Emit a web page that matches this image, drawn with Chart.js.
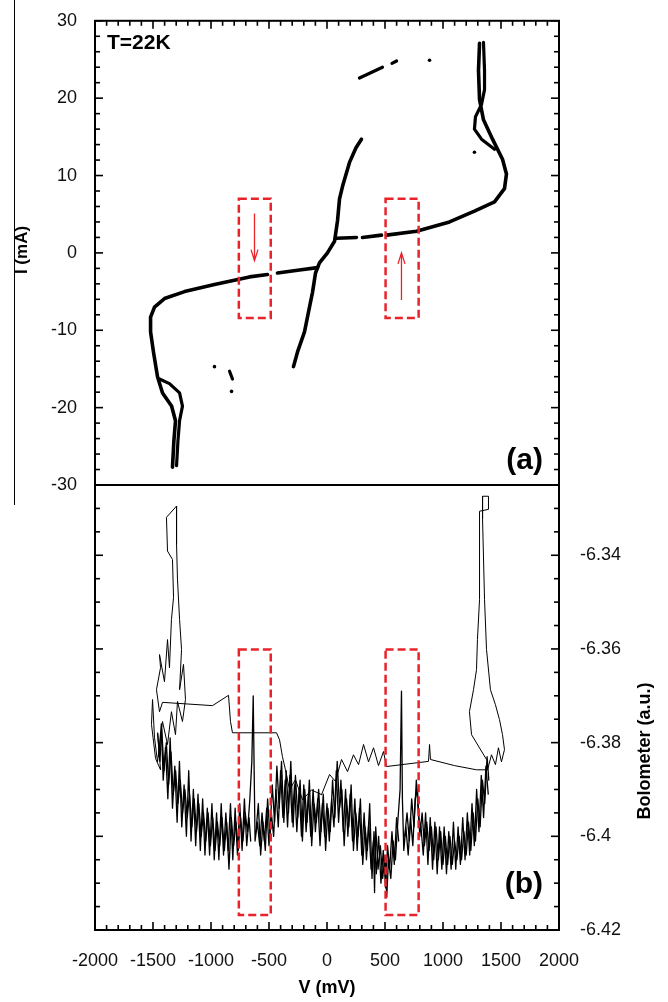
<!DOCTYPE html>
<html>
<head>
<meta charset="utf-8">
<title>I-V and bolometer response, T=22K</title>
<script src="https://cdn.jsdelivr.net/npm/chart.js@4.4.0/dist/chart.umd.min.js"></script>
<style>
  body { margin: 0; background: #fff; }
  #wrap { position: relative; width: 668px; height: 1002px; }
  #wrap canvas { position: absolute; left: 0; top: 0; }
</style>
</head>
<body>
<div id="wrap">
  <canvas id="ivChart" width="668" height="1002"></canvas>
  <canvas id="boloChart" width="668" height="1002"></canvas>
</div>
<script>
// ---- axes ----
const vTicks = [-2000, -1500, -1000, -500, 0, 500, 1000, 1500, 2000];
const iTicks = [-30, -20, -10, 0, 10, 20, 30];
const boloTicks = [-6.42, -6.4, -6.38, -6.36, -6.34];

// ---- marked windows (V range) and arrows ----
const windowsV = [[-760, -485], [505, 790]];
const windowI = [-8.4, 7.0];
const windowBolo = [-6.4168, -6.3601];
const arrowsIV = [[-625, 5.1, -1.0], [642, -6.1, 0.0]]; // V, I start, I end

// ---- (a) I-V curve, [V (mV), I (mA)] ----
const ivLowerOuter = [[-1332,-27.7],[-1320,-24.3],[-1306,-21.7],[-1340,-19.8],[-1418,-18.1],[-1461,-16.0],[-1496,-12.8],[-1521,-10.2],[-1521,-8.3],[-1487,-7.0],[-1401,-5.9],[-1228,-5.0],[-970,-4.1],[-668,-3.1],[-513,-2.8],[-470,null],[-427,-2.6],[-237,-2.2],[-82,-1.9]];
const ivLowerInner = [[-1297,-27.5],[-1285,-24.3],[-1271,-21.7],[-1246,-19.8],[-1271,-18.1],[-1358,-16.9],[-1444,-16.3]];
const ivCentral = [[-289,-14.7],[-254,-12.8],[-194,-10.2],[-151,-7.0],[-125,-5.1],[-99,-2.6],[-65,-1.3],[4,0],[65,1.5],[91,4.2],[108,7.0],[134,8.6],[194,11.7],[250,13.6],[297,14.7]];
const ivUpperOuter = [[82,1.9],[254,2.0],[280,null],[306,2.0],[470,2.3],[490,null],[513,2.3],[772,2.8],[1056,4.0],[1271,5.4],[1444,6.6],[1530,8.3],[1547,10.2],[1513,12.1],[1427,14.7],[1349,17.2],[1315,19.8],[1306,23.6],[1315,27.1]];
const ivUpperInner = [[1349,27.2],[1358,23.6],[1358,21.1],[1332,19.2],[1280,17.6],[1271,16.0],[1332,14.7],[1444,13.4]];
const ivDashes = [[280,22.6],[478,24.0],[500,null],[560,24.5],[600,24.8],[620,null],[-840,-15.3],[-815,-16.3]];
const ivDots = [[884,24.9],[1271,13.0],[-970,-14.7],[-823,-17.9]];

// ---- (b) bolometer, [V (mV), signal (a.u.)] ----
// two overlapping noisy passes of the up-sweep
const boloNoise = [[-1460,-6.378],[-1440,-6.384],[-1425,-6.377],[-1405,-6.386],[-1385,-6.380],[-1365,-6.389],[-1345,-6.382],[-1325,-6.391],[-1305,-6.386],[-1285,-6.393],[-1265,-6.388],[-1245,-6.395],[-1225,-6.390],[-1205,-6.396],[-1185,-6.391],[-1165,-6.398],[-1145,-6.392],[-1125,-6.399],[-1105,-6.393],[-1085,-6.400],[-1065,-6.395],[-1045,-6.401],[-1025,-6.395],[-1005,-6.402],[-985,-6.396],[-965,-6.403],[-945,-6.397],[-925,-6.402],[-905,-6.396],[-885,-6.403],[-865,-6.397],[-845,-6.407],[-825,-6.396],[-805,-6.402],[-785,-6.397],[-765,-6.403],[-745,-6.396],[-725,-6.401],[-705,-6.395],[-685,-6.399],[-665,-6.392],[-648,-6.384],[-636,-6.370],[-629,-6.384],[-620,-6.401],[-600,-6.397],[-580,-6.402],[-560,-6.395],[-540,-6.401],[-520,-6.394],[-500,-6.402],[-480,-6.395],[-460,-6.400],[-440,-6.390],[-420,-6.398],[-400,-6.386],[-380,-6.396],[-360,-6.388],[-340,-6.398],[-320,-6.387],[-300,-6.397],[-280,-6.389],[-260,-6.399],[-240,-6.390],[-220,-6.400],[-200,-6.389],[-180,-6.399],[-160,-6.391],[-140,-6.400],[-120,-6.390],[-100,-6.399],[-80,-6.392],[-60,-6.402],[-40,-6.393],[-20,-6.400],[0,-6.393],[20,-6.401],[40,-6.392],[60,-6.398],[80,-6.386],[100,-6.397],[120,-6.388],[140,-6.399],[160,-6.390],[180,-6.400],[200,-6.391],[220,-6.401],[240,-6.392],[260,-6.403],[280,-6.394],[300,-6.404],[320,-6.395],[340,-6.405],[360,-6.397],[380,-6.407],[400,-6.401],[410,-6.412],[420,-6.398],[440,-6.407],[460,-6.402],[480,-6.409],[500,-6.404],[515,-6.413],[530,-6.405],[550,-6.409],[570,-6.401],[590,-6.405],[610,-6.397],[630,-6.390],[642,-6.369],[650,-6.392],[662,-6.403],[680,-6.398],[700,-6.404],[720,-6.396],[740,-6.402],[760,-6.392],[780,-6.390],[800,-6.400],[820,-6.395],[840,-6.402],[860,-6.397],[880,-6.403],[900,-6.398],[920,-6.405],[940,-6.398],[960,-6.405],[980,-6.399],[1000,-6.406],[1020,-6.400],[1040,-6.406],[1060,-6.400],[1080,-6.406],[1100,-6.401],[1120,-6.405],[1140,-6.400],[1160,-6.405],[1180,-6.399],[1200,-6.404],[1220,-6.397],[1240,-6.403],[1260,-6.395],[1280,-6.401],[1300,-6.392],[1320,-6.398],[1340,-6.388],[1360,-6.393],[1380,-6.383],[1395,-6.388]];
const boloNoise2 = [[-1450,-6.383],[-1428,-6.376],[-1412,-6.388],[-1392,-6.381],[-1372,-6.392],[-1352,-6.379],[-1332,-6.394],[-1312,-6.385],[-1292,-6.397],[-1272,-6.384],[-1252,-6.398],[-1232,-6.389],[-1212,-6.400],[-1192,-6.386],[-1172,-6.401],[-1152,-6.390],[-1132,-6.402],[-1112,-6.391],[-1092,-6.403],[-1072,-6.392],[-1052,-6.404],[-1032,-6.394],[-1012,-6.404],[-992,-6.393],[-972,-6.405],[-952,-6.395],[-932,-6.405],[-912,-6.393],[-892,-6.404],[-872,-6.395],[-852,-6.403],[-832,-6.393],[-812,-6.405],[-792,-6.394],[-772,-6.404],[-752,-6.393],[-732,-6.403],[-712,-6.392],[-692,-6.402],[-672,-6.396],[-658,-6.401],[-635,null],[-612,-6.399],[-592,-6.393],[-572,-6.404],[-552,-6.397],[-532,-6.403],[-512,-6.392],[-492,-6.400],[-472,-6.389],[-452,-6.397],[-432,-6.385],[-412,-6.394],[-392,-6.384],[-372,-6.397],[-352,-6.386],[-332,-6.395],[-312,-6.384],[-292,-6.398],[-272,-6.387],[-252,-6.396],[-232,-6.388],[-212,-6.401],[-192,-6.390],[-172,-6.397],[-152,-6.388],[-132,-6.402],[-112,-6.393],[-92,-6.397],[-72,-6.390],[-52,-6.399],[-32,-6.391],[-12,-6.403],[8,-6.394],[28,-6.399],[48,-6.388],[68,-6.396],[88,-6.384],[108,-6.394],[128,-6.390],[148,-6.402],[168,-6.392],[188,-6.398],[208,-6.389],[228,-6.403],[248,-6.395],[268,-6.400],[288,-6.392],[308,-6.406],[328,-6.398],[348,-6.403],[368,-6.393],[388,-6.409],[405,-6.399],[425,-6.408],[445,-6.400],[465,-6.410],[485,-6.403],[505,-6.411],[522,-6.402],[540,-6.407],[560,-6.399],[580,-6.406],[600,-6.396],[618,-6.401],[645,null],[670,-6.400],[690,-6.395],[710,-6.401],[730,-6.392],[750,-6.398],[770,-6.388],[790,-6.396],[810,-6.398],[830,-6.404],[850,-6.395],[870,-6.406],[890,-6.396],[910,-6.407],[930,-6.397],[950,-6.408],[970,-6.398],[990,-6.407],[1010,-6.398],[1030,-6.408],[1050,-6.399],[1070,-6.407],[1090,-6.397],[1110,-6.407],[1130,-6.398],[1150,-6.406],[1170,-6.396],[1190,-6.405],[1210,-6.395],[1230,-6.404],[1250,-6.393],[1270,-6.402],[1290,-6.390],[1310,-6.399],[1330,-6.387],[1350,-6.396],[1370,-6.385],[1390,-6.391]];
const boloRight = [[1375,-6.3836],[1246,-6.3783],[1228,-6.3734],[1263,-6.3687],[1289,-6.3644],[1297,-6.3580],[1315,-6.3494],[1315,-6.3306],[1392,-6.3302],[1392,-6.3274],[1341,-6.3274],[1341,-6.3323],[1358,-6.3494],[1375,-6.3601],[1409,-6.3687],[1452,-6.3719],[1487,-6.3751],[1513,-6.3783],[1530,-6.3815],[1504,-6.3841],[1478,-6.3811],[1452,-6.3847],[1418,-6.3826],[1384,-6.3858],[1289,-6.3858],[1099,-6.3849],[892,-6.3836],[884,-6.3804],[875,-6.3840],[513,-6.3851],[487,-6.3819],[444,-6.3849],[401,-6.3811],[358,-6.3841],[315,-6.3804],[272,-6.3847],[228,-6.3826],[177,-6.3862],[125,-6.3836],[73,-6.3883],[22,-6.3868],[-47,-6.3911]];
const boloLeft = [[-47,-6.3911],[-134,-6.3901],[-211,-6.3922],[-272,-6.3879],[-323,-6.3901],[-358,-6.3858],[-384,-6.3830],[-409,-6.3794],[-435,-6.3779],[-815,-6.3779],[-832,-6.3755],[-849,-6.3699],[-987,-6.3721],[-1418,-6.3714],[-1444,-6.3734],[-1470,-6.3687],[-1435,-6.3640],[-1444,-6.3612],[-1401,-6.3670],[-1375,-6.3580],[-1358,-6.3640],[-1341,-6.3537],[-1323,-6.3490],[-1332,-6.3409],[-1375,-6.3391],[-1384,-6.3319],[-1297,-6.3295],[-1297,-6.3376],[-1289,-6.3451],[-1271,-6.3537],[-1254,-6.3601],[-1271,-6.3687],[-1237,-6.3633],[-1220,-6.3708],[-1246,-6.3755],[-1289,-6.3712],[-1306,-6.3783],[-1341,-6.3734],[-1375,-6.3804],[-1418,-6.3755],[-1461,-6.3841],[-1487,-6.3789],[-1504,-6.3708],[-1513,-6.3761],[-1478,-6.3834],[-1435,-6.3858],[-1460,-6.378]];

const FONT = "'Liberation Sans', Arial, Helvetica, sans-serif";
const RED = '#e8232a';

const pts = arr => arr.map(p => ({ x: p[0], y: p[1] }));

function curve(data, width) {
  return {
    data: pts(data), showLine: true, borderColor: '#000', borderWidth: width,
    pointRadius: 0, borderCapStyle: 'round', borderJoinStyle: 'round', spanGaps: false
  };
}

// inward tick marks along one side of the plot box
function sideTicks(ctx, scale, a, side, min, max, step, every) {
  const n = Math.round((max - min) / step);
  for (let i = 0; i <= n; i++) {
    const v = min + i * step;
    const len = (i % every === 0) ? 8 : 5;
    const p = scale.getPixelForValue(v);
    ctx.beginPath();
    if (side === 'left') { ctx.moveTo(a.left, p); ctx.lineTo(a.left + len, p); }
    if (side === 'right') { ctx.moveTo(a.right, p); ctx.lineTo(a.right - len, p); }
    if (side === 'top') { ctx.moveTo(p, a.top); ctx.lineTo(p, a.top + len); }
    if (side === 'bottom') { ctx.moveTo(p, a.bottom); ctx.lineTo(p, a.bottom - len); }
    ctx.stroke();
  }
}

function drawWindows(ctx, x, y, range) {
  ctx.save();
  ctx.strokeStyle = RED;
  ctx.lineWidth = 2.5;
  ctx.setLineDash([8, 4]);
  windowsV.forEach(w => {
    const x0 = x.getPixelForValue(w[0]), x1 = x.getPixelForValue(w[1]);
    const y0 = y.getPixelForValue(range[1]), y1 = y.getPixelForValue(range[0]);
    ctx.strokeRect(x0, y0, x1 - x0, y1 - y0);
  });
  ctx.restore();
}

function vText(ctx, text, cx, cy, font) {
  ctx.save();
  ctx.translate(cx, cy);
  ctx.rotate(-Math.PI / 2);
  ctx.font = font;
  ctx.textAlign = 'center';
  ctx.textBaseline = 'middle';
  ctx.fillText(text, 0, 0);
  ctx.restore();
}

const ivDecor = {
  id: 'ivDecor',
  afterDraw(chart) {
    const { ctx, chartArea: a, scales: { x, y } } = chart;
    drawWindows(ctx, x, y, windowI);

    ctx.save();
    // sweep direction arrows
    ctx.strokeStyle = RED;
    ctx.lineWidth = 1.3;
    arrowsIV.forEach(ar => {
      const px = x.getPixelForValue(ar[0]);
      const p0 = y.getPixelForValue(ar[1]), p1 = y.getPixelForValue(ar[2]);
      const d = Math.sign(p1 - p0);
      ctx.beginPath();
      ctx.moveTo(px, p0); ctx.lineTo(px, p1);
      ctx.moveTo(px - 3.5, p1 - d * 11); ctx.lineTo(px, p1); ctx.lineTo(px + 3.5, p1 - d * 11);
      ctx.stroke();
    });

    // frame and ticks
    ctx.strokeStyle = '#000';
    ctx.lineWidth = 2;
    ctx.strokeRect(a.left, a.top, a.right - a.left, a.bottom - a.top);
    ctx.lineWidth = 1.6;
    sideTicks(ctx, y, a, 'left', -30, 30, 2, 5);
    sideTicks(ctx, y, a, 'right', -30, 30, 2, 5);
    sideTicks(ctx, x, a, 'top', -2000, 2000, 100, 5);

    // side rule and labels
    ctx.lineWidth = 1;
    ctx.beginPath(); ctx.moveTo(14.5, 0); ctx.lineTo(14.5, 505); ctx.stroke();
    ctx.fillStyle = '#000';
    vText(ctx, 'I (mA)', 22, 250, 'bold 17px ' + FONT);
    ctx.font = 'bold 21px ' + FONT;
    ctx.textAlign = 'left'; ctx.textBaseline = 'middle';
    ctx.fillText('T=22K', 107, 43);
    ctx.font = 'bold 30px ' + FONT;
    ctx.textAlign = 'right';
    ctx.fillText('(a)', 543, 461);
    ctx.restore();
  }
};

const boloDecor = {
  id: 'boloDecor',
  afterDraw(chart) {
    const { ctx, chartArea: a, scales: { x, y } } = chart;
    drawWindows(ctx, x, y, windowBolo);

    ctx.save();
    ctx.strokeStyle = '#000';
    ctx.lineWidth = 2;
    ctx.strokeRect(a.left, a.top, a.right - a.left, a.bottom - a.top);
    ctx.lineWidth = 1.6;
    sideTicks(ctx, y, a, 'left', -6.42, -6.325, 0.005, 4);
    sideTicks(ctx, y, a, 'right', -6.42, -6.325, 0.005, 4);
    sideTicks(ctx, x, a, 'bottom', -2000, 2000, 100, 5);

    ctx.fillStyle = '#000';
    ctx.font = 'bold 30px ' + FONT;
    ctx.textAlign = 'right'; ctx.textBaseline = 'middle';
    ctx.fillText('(b)', 543, 885);
    ctx.font = 'bold 18px ' + FONT;
    ctx.textAlign = 'center';
    ctx.fillText('V (mV)', 327, 988);
    vText(ctx, 'Bolometer (a.u.)', 645, 751, 'bold 18px ' + FONT);
    ctx.restore();
  }
};

const tickFont = { family: FONT, size: 18 };

new Chart(document.getElementById('ivChart'), {
  type: 'scatter',
  data: {
    datasets: [
      curve(ivLowerOuter, 3.6),
      curve(ivLowerInner, 3.2),
      curve(ivCentral, 3.6),
      curve(ivUpperOuter, 3.6),
      curve(ivUpperInner, 3.2),
      curve(ivDashes, 3.2),
      { data: pts(ivDots), pointRadius: 1.8, pointBackgroundColor: '#000', pointBorderWidth: 0 }
    ]
  },
  options: {
    responsive: false, animation: false, events: [],
    layout: { padding: { top: 15, right: 109, bottom: 517, left: 0 } },
    plugins: { legend: { display: false }, tooltip: { enabled: false } },
    scales: {
      x: { type: 'linear', min: -2000, max: 2000, display: false },
      y: {
        type: 'linear', position: 'left', min: -30, max: 30,
        afterBuildTicks: s => { s.ticks = iTicks.map(v => ({ value: v })); },
        afterFit: s => { s.width = 95; },
        grid: { display: false }, border: { display: false },
        ticks: { font: tickFont, color: '#111', padding: 10 }
      }
    }
  },
  plugins: [ivDecor]
});

new Chart(document.getElementById('boloChart'), {
  type: 'scatter',
  data: {
    datasets: [
      curve(boloNoise, 1.3),
      curve(boloNoise2, 1.3),
      curve(boloRight, 1),
      curve(boloLeft, 1)
    ]
  },
  options: {
    responsive: false, animation: false, events: [],
    layout: { padding: { top: 485, right: 0, bottom: 0, left: 95 } },
    plugins: { legend: { display: false }, tooltip: { enabled: false } },
    scales: {
      x: {
        type: 'linear', position: 'bottom', min: -2000, max: 2000,
        afterBuildTicks: s => { s.ticks = vTicks.map(v => ({ value: v })); },
        afterFit: s => { s.height = 72; },
        grid: { display: false }, border: { display: false },
        ticks: { font: tickFont, color: '#111', padding: 12, maxRotation: 0, callback: v => String(v) }
      },
      y: {
        type: 'linear', position: 'right', min: -6.42, max: -6.325,
        afterBuildTicks: s => { s.ticks = boloTicks.map(v => ({ value: v })); },
        afterFit: s => { s.width = 109; },
        grid: { display: false }, border: { display: false },
        ticks: { font: tickFont, color: '#111', padding: 13, callback: v => String(+v.toFixed(2)) }
      }
    }
  },
  plugins: [boloDecor]
});
</script>
</body>
</html>
